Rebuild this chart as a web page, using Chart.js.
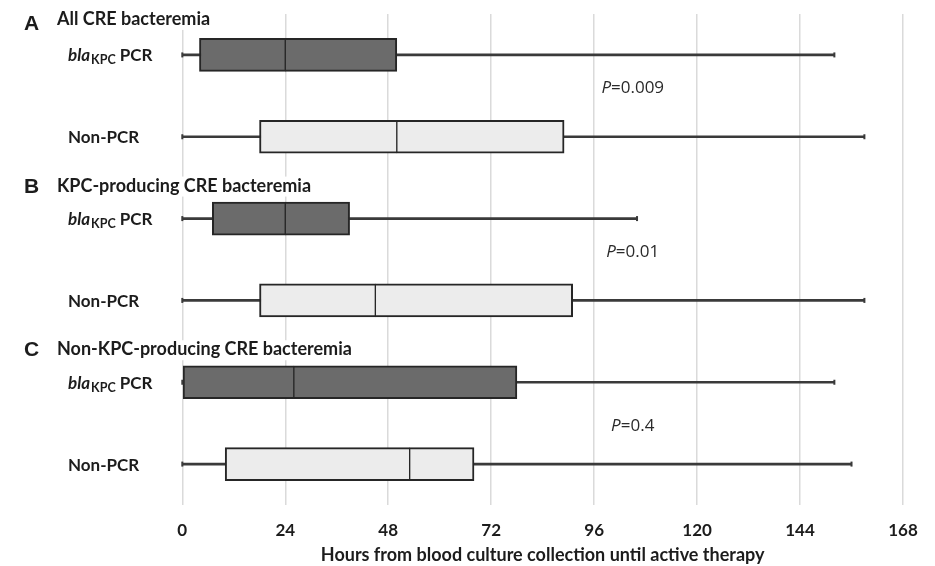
<!DOCTYPE html>
<html>
<head>
<meta charset="utf-8">
<script src="https://cdn.jsdelivr.net/npm/chart.js@4/dist/chart.umd.min.js"></script>
<style>
  html, body { margin: 0; padding: 0; background: #ffffff; }
  #wrap { width: 935px; height: 566px; }
</style>
</head>
<body>
<div id="wrap"><canvas id="c" width="935" height="566"></canvas></div>
<script>
// ---- data ----
const categories = ['bla_KPC PCR', 'Non-PCR', 'bla_KPC PCR', 'Non-PCR', 'bla_KPC PCR', 'Non-PCR'];
const groupLetters = ['A', 'B', 'C'];
const groupTitles = ['All CRE bacteremia', 'KPC-producing CRE bacteremia', 'Non-KPC-producing CRE bacteremia'];
const whiskerLow  = [0, 0, 0, 0, 0, 0];
const boxQ1       = [4, 18, 7, 18, 0, 10];
const boxMedian   = [24, 50, 24, 45, 26, 53];
const boxQ3       = [50, 89, 39, 91, 78, 68];
const whiskerHigh = [152, 159, 106, 159, 152, 156];
const pValues = ['0.009', '0.01', '0.4'];
const xTicks = [0, 24, 48, 72, 96, 120, 144, 168];
const xTitle = 'Hours from blood culture collection until active therapy';

// ---- styles ----
const DARK = '#6b6b6b', LIGHT = '#ececec', EDGE = '#262626', WHISK = '#3a3a3a', TEXT = '#1c1c1c';
const rowFill = categories.map((c, i) => (i % 2 === 0 ? DARK : LIGHT));

const whiskerData = categories.map((c, i) => [whiskerLow[i], whiskerHigh[i]]);
const lowerBox = categories.map((c, i) => [boxQ1[i], boxMedian[i]]);
const upperBox = categories.map((c, i) => [boxMedian[i], boxQ3[i]]);

const overlay = {
  id: 'overlay',
  beforeDatasetsDraw(chart) {
    const ctx = chart.ctx, y = chart.scales.y;
    ctx.save();
    ctx.font = 'bold 18px Lato';
    groupTitles.forEach((t, g) => {
      const base = y.getPixelForValue(g * 2) - (g === 0 ? 30 : 27);
      const w = ctx.measureText(t).width;
      ctx.fillStyle = '#ffffff';
      ctx.fillRect(55, base - 15, w + 4, 20);
    });
    ctx.restore();
  },
  afterDatasetsDraw(chart) {
    const ctx = chart.ctx, x = chart.scales.x, y = chart.scales.y;
    ctx.save();
    ctx.fillStyle = WHISK;
    categories.forEach((c, i) => {
      const yc = y.getPixelForValue(i);
      [whiskerLow[i], whiskerHigh[i]].forEach(v => {
        const px = x.getPixelForValue(v);
        ctx.fillRect(px - 1, yc - 2.5, 2, 5);
      });
    });
    ctx.restore();
  },
  afterDraw(chart) {
    const ctx = chart.ctx, x = chart.scales.x, y = chart.scales.y;
    ctx.save();
    ctx.fillStyle = TEXT;
    ctx.textBaseline = 'alphabetic';
    ctx.textAlign = 'left';
    // group titles
    groupTitles.forEach((t, g) => {
      const base = y.getPixelForValue(g * 2) - (g === 0 ? 30 : 27);
      ctx.font = 'bold 21px "Liberation Sans"';
      ctx.fillText(groupLetters[g], 24, base + (g === 0 ? 5 : 1));
      ctx.font = 'bold 18px Lato';
      ctx.fillText(t, 57, base);
    });
    // row labels
    categories.forEach((c, i) => {
      const base = y.getPixelForValue(i) + 6.5;
      let px = 68;
      const m = c.match(/^(\w+)_(\w+)(.*)$/);
      if (m) {
        ctx.font = 'italic bold 17px Lato';
        ctx.fillText(m[1], px, base); px += ctx.measureText(m[1]).width + 1;
        ctx.font = 'bold 12.5px Lato';
        ctx.fillText(m[2], px, base + 3); px += ctx.measureText(m[2]).width;
        ctx.font = 'bold 17px Lato';
        ctx.fillText(m[3], px, base);
      } else {
        ctx.font = 'bold 17px Lato';
        ctx.fillText(c, px, base);
      }
    });
    // p-values
    const pPos = [0.41, 2.41, 4.54];
    ctx.fillStyle = '#2a2a2a';
    ctx.textBaseline = 'middle';
    pValues.forEach((p, k) => {
      const cx = x.getPixelForValue(105), cy = y.getPixelForValue(pPos[k]);
      ctx.font = 'italic 17px "Open Sans"';
      const w1 = ctx.measureText('P').width;
      ctx.font = '17px "Open Sans"';
      const rest = '=' + p;
      const w2 = ctx.measureText(rest).width;
      let sx = cx - (w1 + w2) / 2;
      ctx.font = 'italic 17px "Open Sans"';
      ctx.fillText('P', sx, cy);
      ctx.font = '17px "Open Sans"';
      ctx.fillText(rest, sx + w1, cy);
    });
    ctx.restore();
  }
};

new Chart(document.getElementById('c'), {
  type: 'bar',
  data: {
    labels: categories.map((c, i) => i),
    datasets: [
      { label: 'whisker', data: whiskerData, backgroundColor: WHISK, borderWidth: 0, barThickness: 2, grouped: false, order: 3 },
      { label: 'lower', data: lowerBox, backgroundColor: rowFill, borderColor: EDGE,
        borderWidth: { top: 2, bottom: 2, left: 2, right: 1 }, borderSkipped: false, barThickness: 33, grouped: false, order: 1 },
      { label: 'upper', data: upperBox, backgroundColor: rowFill, borderColor: EDGE,
        borderWidth: { top: 2, bottom: 2, left: 1, right: 2 }, borderSkipped: false, barThickness: 33, grouped: false, order: 1 }
    ]
  },
  options: {
    indexAxis: 'y',
    responsive: false,
    animation: false,
    layout: { padding: { left: 0, right: 32, top: 14, bottom: 0 } },
    plugins: { legend: { display: false }, tooltip: { enabled: false } },
    scales: {
      y: {
        type: 'category', offset: true,
        grid: { display: false }, border: { display: false },
        ticks: { display: false },
        afterFit: s => { s.width = 182.3; }
      },
      x: {
        type: 'linear', min: 0, max: 168,
        afterBuildTicks: s => { s.ticks = xTicks.map(v => ({ value: v })); },
        ticks: { color: TEXT, font: { family: 'Lato', weight: 'bold', size: 17 }, padding: 15, maxRotation: 0 },
        grid: { color: '#dadada', lineWidth: 1.5, drawTicks: false },
        border: { display: false },
        title: { display: true, text: xTitle, color: TEXT, font: { family: 'Lato', weight: 'bold', size: 18 }, padding: 0 },
        afterFit: s => { s.height = 61; }
      }
    }
  },
  plugins: [overlay]
});
</script>
</body>
</html>
